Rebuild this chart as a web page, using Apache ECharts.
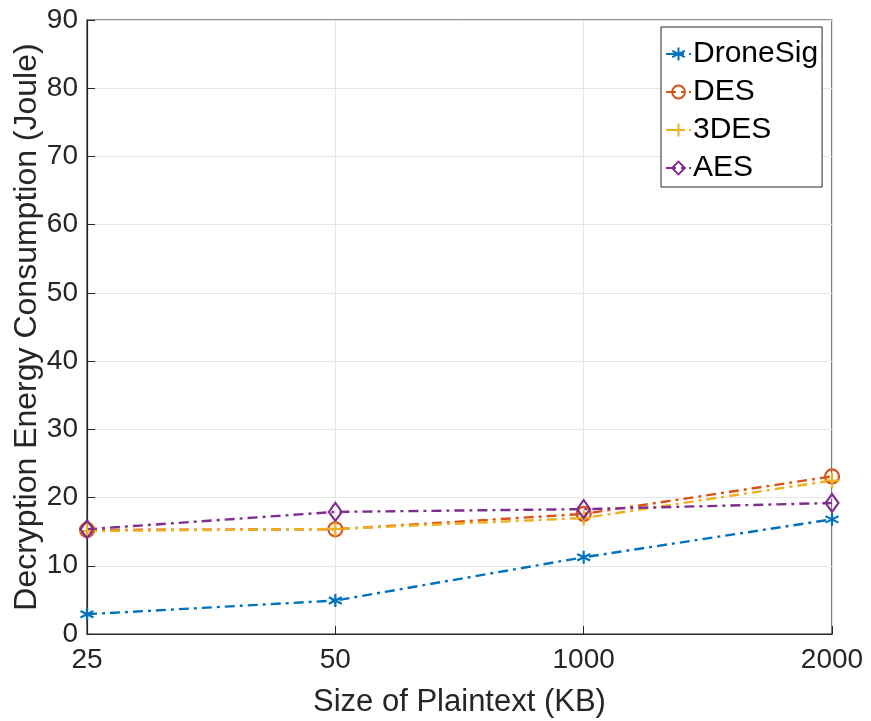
<!DOCTYPE html>
<html>
<head>
<meta charset="utf-8">
<script src="https://cdn.jsdelivr.net/npm/echarts@6/dist/echarts.min.js"></script>
<style>
  html, body { margin: 0; padding: 0; background: #fff; }
  #chart { width: 871px; height: 721px; }
</style>
</head>
<body>
<div id="chart"></div>
<script>
// Plaintext sizes (KB) on the category axis
const sizes = ['25', '50', '1000', '2000'];
const yTicks = [0, 10, 20, 30, 40, 50, 60, 70, 80, 90];

// Decryption energy (Joule) per scheme
const droneSig = [2.9, 4.9, 11.25, 16.8];
const des      = [15.25, 15.35, 17.6, 23.1];
const tripleDes = [15.1, 15.4, 17.0, 22.5];
const aes      = [15.35, 17.9, 18.3, 19.2];

const FONT = 'Liberation Sans, Arial, Helvetica, sans-serif';
const INK = '#262626';

// Open marker outlines
const asterisk = 'path://M0,-1L0,1M-0.87,-0.5L0.87,0.5M-0.87,0.5L0.87,-0.5';
const plus = 'path://M0,-1L0,1M-1,0L1,0';
const diamond = 'path://M0,-1L1,0L0,1L-1,0Z';
const ring = 'path://M1,0A1,1 0 1,1 -1,0A1,1 0 1,1 1,0Z';
const dashDot = [10, 5, 3, 5];

function mkSeries(name, data, color, symbol, size) {
  return {
    name: name,
    type: 'line',
    data: data,
    symbol: symbol,
    symbolSize: size,
    showAllSymbol: true,
    lineStyle: { color: color, width: 2.4, type: dashDot },
    itemStyle: { color: 'none', borderColor: color, borderWidth: 2.2 },
    emphasis: { disabled: true },
    animation: false
  };
}

const chart = echarts.init(document.getElementById('chart'), null, { renderer: 'canvas' });
chart.setOption({
  backgroundColor: '#ffffff',
  animation: false,
  textStyle: { fontFamily: FONT },
  grid: {
    left: 87, right: 39, top: 20, bottom: 87,
    outerBoundsMode: 'none',
    containLabel: false,
    show: true, borderColor: INK, borderWidth: 1.2, backgroundColor: '#fff'
  },
  legend: {
    orient: 'vertical',
    left: 661, top: 27,
    itemWidth: 25, itemHeight: 16, itemGap: 8,
    padding: [12, 4, 4, 4],
    backgroundColor: '#fff',
    borderColor: INK, borderWidth: 1,
    borderRadius: 0,
    textStyle: { fontFamily: FONT, fontSize: 30, color: '#000', padding: [0, 0, 0, -3] },
    data: ['DroneSig', 'DES', '3DES', 'AES']
  },
  xAxis: {
    type: 'category',
    data: sizes,
    boundaryGap: false,
    name: 'Size of Plaintext (KB)',
    nameLocation: 'middle',
    nameGap: 53,
    nameMoveOverlap: false,
    nameTextStyle: { fontFamily: FONT, fontSize: 31, color: INK },
    axisLine: { show: true, lineStyle: { color: INK, width: 1.2 } },
    axisTick: { show: true, inside: true, length: 8, alignWithLabel: true, lineStyle: { color: INK } },
    axisLabel: { fontFamily: FONT, fontSize: 28, color: INK, margin: 12 },
    splitLine: { show: true, lineStyle: { color: '#e5e5e5', width: 1 } }
  },
  yAxis: {
    type: 'value',
    min: 0, max: 90, interval: 10,
    name: 'Decryption Energy Consumption (Joule)',
    nameLocation: 'middle',
    nameGap: 44,
    nameMoveOverlap: false,
    nameTextStyle: { fontFamily: FONT, fontSize: 32, color: INK },
    axisLine: { show: true, lineStyle: { color: INK, width: 1.2 } },
    axisTick: { show: true, inside: true, length: 8, lineStyle: { color: INK } },
    axisLabel: {
      fontFamily: FONT, fontSize: 28, color: INK, margin: 9,
      formatter: function (v) { return yTicks.indexOf(v) >= 0 ? String(v) : ''; }
    },
    splitLine: { show: true, lineStyle: { color: '#e5e5e5', width: 1 } }
  },
  series: [
    mkSeries('DroneSig', droneSig, '#0072BD', asterisk, 13),
    mkSeries('DES', des, '#D95319', ring, 14),
    mkSeries('3DES', tripleDes, '#EDB120', plus, 15),
    mkSeries('AES', aes, '#7E2F8E', diamond, [13, 18])
  ]
});
</script>
</body>
</html>
